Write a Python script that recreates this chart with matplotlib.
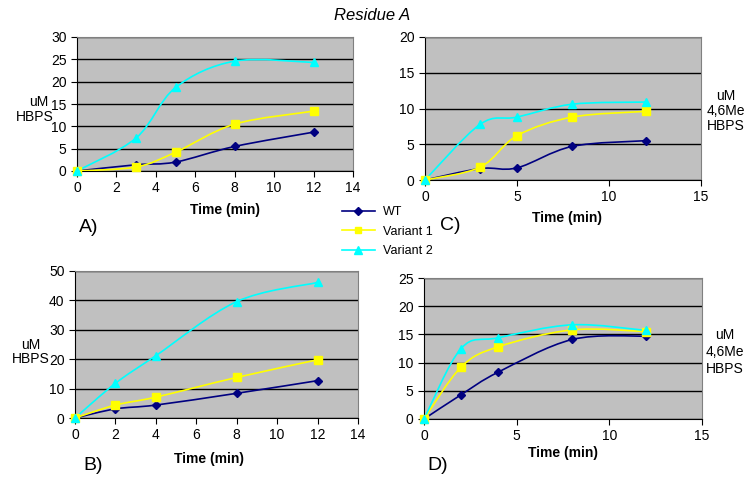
import matplotlib
matplotlib.use("Agg")
import matplotlib.pyplot as plt
from matplotlib.path import Path
from matplotlib.patches import PathPatch
from matplotlib.lines import Line2D

plt.rcParams['font.family'] = ['Liberation Sans', 'DejaVu Sans']

# ---- data ----
series_names = ["WT", "Variant 1", "Variant 2"]
colors = ["#000080", "#FFFF00", "#00FFFF"]
markers = ["D", "s", "^"]
marker_sizes = [4.5, 5.5, 6]

time_A = [0, 3, 5, 8, 12]
A_wt = [0, 1.4, 2.0, 5.5, 8.7]
A_v1 = [0, 0.9, 4.2, 10.5, 13.4]
A_v2 = [0, 7.4, 18.7, 24.6, 24.3]

time_C = [0, 3, 5, 8, 12]
C_wt = [0, 1.6, 1.7, 4.7, 5.5]
C_v1 = [0, 1.8, 6.2, 8.8, 9.6]
C_v2 = [0, 7.8, 8.8, 10.6, 10.9]

time_B = [0, 2, 4, 8, 12]
B_wt = [0, 3.1, 4.4, 8.4, 12.7]
B_v1 = [0, 4.4, 7.1, 13.8, 19.8]
B_v2 = [0, 11.8, 21.2, 39.6, 46.1]

time_D = [0, 2, 4, 8, 12]
D_wt = [0, 4.3, 8.3, 14.1, 14.7]
D_v1 = [0, 9.2, 12.8, 15.8, 15.5]
D_v2 = [0, 12.5, 14.4, 16.7, 15.7]

x_ticks_AB = [0, 2, 4, 6, 8, 10, 12, 14]
x_ticks_CD = [0, 5, 10, 15]
y_ticks_A = [0, 5, 10, 15, 20, 25, 30]
y_ticks_B = [0, 10, 20, 30, 40, 50]
y_ticks_C = [0, 5, 10, 15, 20]
y_ticks_D = [0, 5, 10, 15, 20, 25]

W, H = 745, 480
fig = plt.figure(figsize=(W / 100, H / 100), dpi=100)


def rect(l, t, r, b):
    return [l / W, 1 - b / H, (r - l) / W, (b - t) / H]


def smooth(ax, x, y, color):
    pts = list(zip(x, y))
    n = len(pts)
    verts = [pts[0]]
    codes = [Path.MOVETO]
    for i in range(n - 1):
        p0 = pts[i - 1] if i > 0 else pts[i]
        p1 = pts[i]
        p2 = pts[i + 1]
        p3 = pts[i + 2] if i + 2 < n else pts[i + 1]
        c1 = (p1[0] + (p2[0] - p0[0]) / 6, p1[1] + (p2[1] - p0[1]) / 6)
        c2 = (p2[0] - (p3[0] - p1[0]) / 6, p2[1] - (p3[1] - p1[1]) / 6)
        verts += [c1, c2, p2]
        codes += [Path.CURVE4] * 3
    ax.add_patch(PathPatch(Path(verts, codes), fill=False, edgecolor=color,
                           lw=1.2, transform=ax.transData, zorder=3))


def panel(r, x, ys, xt, yt):
    ax = fig.add_axes(rect(*r))
    ax.set_facecolor("#C0C0C0")
    ax.set_xlim(xt[0], xt[-1])
    ax.set_ylim(yt[0], yt[-1])
    ax.set_xticks(xt)
    ax.set_yticks(yt)
    ax.yaxis.grid(True, color="black", lw=1)
    ax.set_axisbelow(True)
    for s in ["top", "right"]:
        ax.spines[s].set_color("#808080")
    for s in ["left", "bottom"]:
        ax.spines[s].set_color("black")
    ax.tick_params(direction="out", length=4, labelsize=10, width=0.8)
    for yv, c, m, ms in zip(ys, colors, markers, marker_sizes):
        smooth(ax, x, yv, c)
        ax.plot(x, yv, linestyle="none", marker=m, color=c, markersize=ms,
                markeredgecolor=c, zorder=4, clip_on=False)
    return ax


axA = panel((77, 37, 353, 171), time_A, [A_wt, A_v1, A_v2], x_ticks_AB, y_ticks_A)
axC = panel((425, 37, 701, 180), time_C, [C_wt, C_v1, C_v2], x_ticks_CD, y_ticks_C)
axB = panel((75, 271, 358, 418), time_B, [B_wt, B_v1, B_v2], x_ticks_AB, y_ticks_B)
axD = panel((424, 278, 702, 419), time_D, [D_wt, D_v1, D_v2], x_ticks_CD, y_ticks_D)


def ftext(x, y, s, **kw):
    fig.text(x / W, 1 - y / H, s, **kw)


ftext(372, 15, "Residue A", fontsize=12, style="italic", ha="center", va="center")

for (x, y) in [(225, 210), (567, 218), (209, 459), (563, 453)]:
    ftext(x, y, "Time (min)", fontsize=10, fontweight="bold", ha="center", va="center")

ftext(89, 227, "A)", fontsize=14, ha="center", va="center")
ftext(450, 225, "C)", fontsize=14, ha="center", va="center")
ftext(93, 466, "B)", fontsize=14, ha="center", va="center")
ftext(438, 465, "D)", fontsize=14, ha="center", va="center")

ftext(39, 102, "uM", fontsize=10, ha="center", va="center")
ftext(35, 117, "HBPS", fontsize=10, ha="center", va="center")
ftext(31, 352, "uM\nHBPS", fontsize=10, ha="center", va="center", linespacing=1.08)
ftext(726, 111, "uM\n4,6Me\nHBPS", fontsize=10, ha="center", va="center", linespacing=1.08)
ftext(725, 352, "uM\n4,6Me\nHBPS", fontsize=10, ha="center", va="center", linespacing=1.25)

handles = [Line2D([], [], color=c, marker=m, markersize=ms * 0.9, lw=1.2)
           for c, m, ms in zip(colors, markers, marker_sizes)]
fig.legend(handles, series_names, loc="upper left",
           bbox_to_anchor=(342 / W, 1 - 206 / H), frameon=False, fontsize=9,
           handlelength=2.6, handletextpad=0.65, labelspacing=0.62,
           borderpad=0, borderaxespad=0)

fig.savefig("out.png", dpi=100)
